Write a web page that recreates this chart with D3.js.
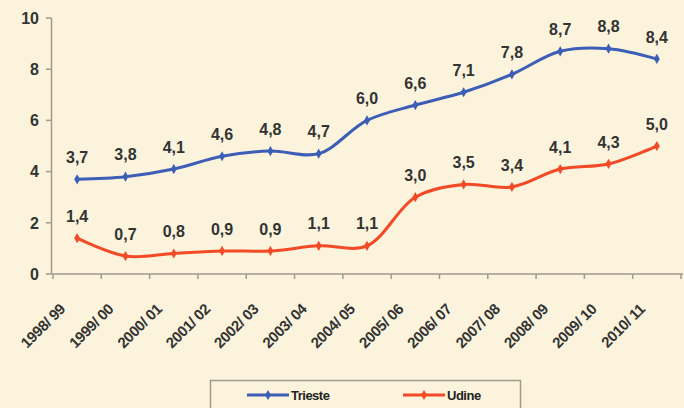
<!DOCTYPE html>
<html><head><meta charset="utf-8">
<script src="https://cdn.jsdelivr.net/npm/d3@7"></script>
<style>
html,body{margin:0;padding:0;background:#fbf3dc;}
svg{display:block;}
text{font-family:"Liberation Sans",Arial,sans-serif;}
</style></head>
<body><svg id="c" width="684" height="408"></svg>
<script>
const categories = ["1998/ 99","1999/ 00","2000/ 01","2001/ 02","2002/ 03","2003/ 04","2004/ 05","2005/ 06","2006/ 07","2007/ 08","2008/ 09","2009/ 10","2010/ 11"];
const trieste = [3.7,3.8,4.1,4.6,4.8,4.7,6.0,6.6,7.1,7.8,8.7,8.8,8.4];
const udine = [1.4,0.7,0.8,0.9,0.9,1.1,1.1,3.0,3.5,3.4,4.1,4.3,5.0];
const yTicks = [0,2,4,6,8,10];
const seriesNames = ["Trieste","Udine"];
const colors = ["#3d5eb6","#f24a26"];

const svg = d3.select("#c");
svg.append("rect").attr("width",684).attr("height",408).attr("fill","#fbf3dc");

const x = d3.scaleBand().domain(categories).range([53,681]);
const y = d3.scaleLinear().domain([0,10]).range([274,18]);
const cx = c => x(c) + x.bandwidth()/2;

// Y axis
const ya = svg.append("g");
ya.append("line").attr("x1",51.5).attr("x2",51.5).attr("y1",y(10)).attr("y2",y(0)).attr("stroke","#a09a8c").attr("stroke-width",1.5);
ya.selectAll("line.t").data(yTicks).join("line").attr("class","t")
  .attr("x1",46).attr("x2",51.5).attr("y1",d=>y(d)).attr("y2",d=>y(d)).attr("stroke","#a09a8c").attr("stroke-width",1.5);
ya.selectAll("text").data(yTicks).join("text")
  .attr("x",39).attr("y",d=>y(d)).attr("dy","0.36em").attr("text-anchor","end")
  .attr("font-size",16).attr("font-weight","bold").attr("fill","#333").text(d=>d);

// X axis
const xa = svg.append("g");
xa.append("line").attr("x1",51.5).attr("x2",683).attr("y1",y(0)).attr("y2",y(0)).attr("stroke","#a09a8c").attr("stroke-width",1.5);
const bounds = categories.map(c=>x(c)).concat([x.range()[1]]);
xa.selectAll("line.t").data(bounds).join("line").attr("class","t")
  .attr("x1",d=>d).attr("x2",d=>d).attr("y1",y(0)).attr("y2",y(0)+5).attr("stroke","#a09a8c").attr("stroke-width",1.5);
xa.selectAll("text").data(categories).join("text")
  .attr("transform",c=>`translate(${cx(c)-11},${y(0)+36}) rotate(-45)`)
  .attr("text-anchor","end")
  .attr("font-size",15).attr("font-weight","bold").attr("fill","#333").attr("letter-spacing","-0.4").text(c=>c);

// lines
const series = [trieste, udine];
const line = d3.line().x((d,i)=>cx(categories[i])).y(d=>y(d)).curve(d3.curveCatmullRom.alpha(0.5));
series.forEach((vals,k)=>{
  const g = svg.append("g");
  g.append("path").datum(vals).attr("d",line).attr("fill","none").attr("stroke",colors[k]).attr("stroke-width",3);
  g.selectAll("path.m").data(vals).join("path").attr("class","m")
    .attr("transform",(d,i)=>`translate(${cx(categories[i])},${y(d)})`)
    .attr("d",d3.symbol(d3.symbolDiamond,30)).attr("fill",colors[k]);
  g.selectAll("text").data(vals).join("text")
    .attr("x",(d,i)=>cx(categories[i])).attr("y",d=>y(d)-22).attr("dy","0.35em")
    .attr("text-anchor","middle").attr("font-size",16).attr("font-weight","bold").attr("fill","#333")
    .text(d=>d3.format(".1f")(d).replace(".",","));
});

// legend
const lg = svg.append("g");
lg.append("rect").attr("x",210.5).attr("y",380.5).attr("width",310).attr("height",40).attr("fill","none").attr("stroke","#a09a8c").attr("stroke-width",1.5);
const lx = [247,403];
seriesNames.forEach((n,k)=>{
  lg.append("line").attr("x1",lx[k]).attr("x2",lx[k]+42).attr("y1",395).attr("y2",395).attr("stroke",colors[k]).attr("stroke-width",3);
  lg.append("path").attr("transform",`translate(${lx[k]+21},395)`).attr("d",d3.symbol(d3.symbolDiamond,30)).attr("fill",colors[k]);
  lg.append("text").attr("x",lx[k]+44).attr("y",395).attr("dy","0.35em").attr("font-size",13).attr("fill","#222").attr("font-weight","bold").attr("letter-spacing","-0.5").text(n);
});
</script></body></html>
